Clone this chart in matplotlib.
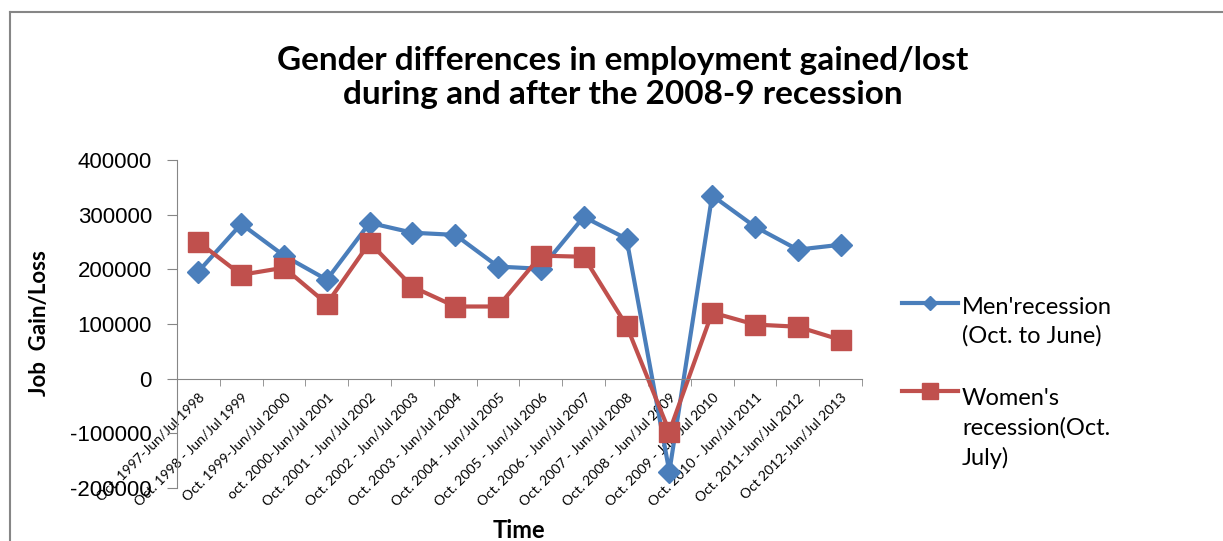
import matplotlib.pyplot as plt
import numpy as np
from matplotlib.lines import Line2D

periods = ["Oct. 1997-Jun/Jul 1998", "Oct. 1998 - Jun/Jul 1999", "Oct. 1999-Jun/Jul 2000",
           "oct. 2000-Jun/Jul 2001", "Oct. 2001 - Jun/Jul 2002", "Oct. 2002 - Jun/Jul 2003",
           "Oct. 2003 - Jun/Jul 2004", "Oct. 2004 - Jun/Jul 2005", "Oct. 2005 - Jun/Jul 2006",
           "Oct. 2006 - Jun/Jul 2007", "Oct. 2007 - Jun/Jul 2008", "Oct. 2008 - Jun/Jul 2009",
           "Oct. 2009 - Jun/Jul 2010", "Oct. 2010 - Jun/Jul 2011", "Oct. 2011-Jun/Jul 2012",
           "Oct 2012-Jun/Jul 2013"]
men = [196000, 283000, 225000, 181000, 285000, 267000, 263000, 205000, 201000,
       296000, 256000, -170000, 335000, 278000, 236000, 245000]
women = [250000, 190000, 203000, 137000, 249000, 168000, 132000, 132000, 225000,
         223000, 97000, -97000, 121000, 99000, 95000, 71000]
yticks = [-200000, -100000, 0, 100000, 200000, 300000, 400000]
men_label = "Men'recession\n(Oct. to June)"
women_label = "Women's\nrecession(Oct.\nJuly)"

plt.rcParams['font.family'] = ['Lato', 'DejaVu Sans']
grey = '#868686'
blue = '#4A7EBB'
red = '#C0504D'
W, H = 1223, 541

fig = plt.figure(figsize=(W / 100, H / 100), dpi=100)
ax = fig.add_axes([177 / W, 1 - 488 / H, 685 / W, 328 / H])

x = np.arange(len(periods))
ax.plot(x, men, color=blue, lw=3, marker='D', ms=11)
ax.plot(x, women, color=red, lw=3, marker='s', ms=14)

ax.set_xlim(-0.5, len(periods) - 0.5)
ax.set_ylim(-200000, 400000)
ax.set_yticks(yticks)
ax.set_yticklabels([str(v) for v in yticks], fontsize=16, family='Liberation Sans')
ax.tick_params(axis='y', length=7, color=grey, pad=11)

ax.spines['bottom'].set_position(('data', 0))
ax.spines['top'].set_visible(False)
ax.spines['right'].set_visible(False)
for s in ['left', 'bottom']:
    ax.spines[s].set_color(grey)
ax.set_xticks(x)
ax.set_xticklabels(periods, rotation=45, ha='right', rotation_mode='anchor', fontsize=10)
ax.set_xticks(np.arange(len(periods) + 1) - 0.5, minor=True)
ax.tick_params(axis='x', which='major', length=0, pad=9)
ax.tick_params(axis='x', which='minor', length=5, color=grey)

fig.text(40 / W, 1 - 323 / H, "Job  Gain/Loss", fontsize=16, fontweight='bold',
         rotation=90, ha='center', va='center')
fig.text(519 / W, 1 - 530 / H, "Time", fontsize=17, fontweight='bold', ha='center', va='center')

# va='baseline' pins the last line's baseline
fig.text(623 / W, 1 - 104 / H,
         "Gender differences in employment gained/lost\nduring and after the 2008-9 recession",
         fontsize=24, fontweight='bold', ha='center', va='baseline', linespacing=1.2)

# legend, drawn by hand so the key sits on the first text line (as in Excel)
for label, col, mk, ms, ykey, ylast in [(men_label, blue, 'D', 7, 303, 343),
                                        (women_label, red, 's', 11, 391, 465)]:
    yk = 1 - ykey / H
    fig.add_artist(Line2D([902 / W, 958 / W], [yk, yk], color=col, lw=3))
    fig.add_artist(Line2D([930 / W], [yk], color=col, marker=mk, ms=ms))
    fig.text(962 / W, 1 - ylast / H, label, fontsize=17, va='baseline', ha='left', linespacing=1.45)

# chart border
fig.add_artist(Line2D([10 / W, 1], [1 - 12 / H, 1 - 12 / H], color=grey, lw=1.5))
fig.add_artist(Line2D([10 / W, 10 / W], [0, 1 - 12 / H], color=grey, lw=1.5))

fig.savefig('out.png', dpi=100)
